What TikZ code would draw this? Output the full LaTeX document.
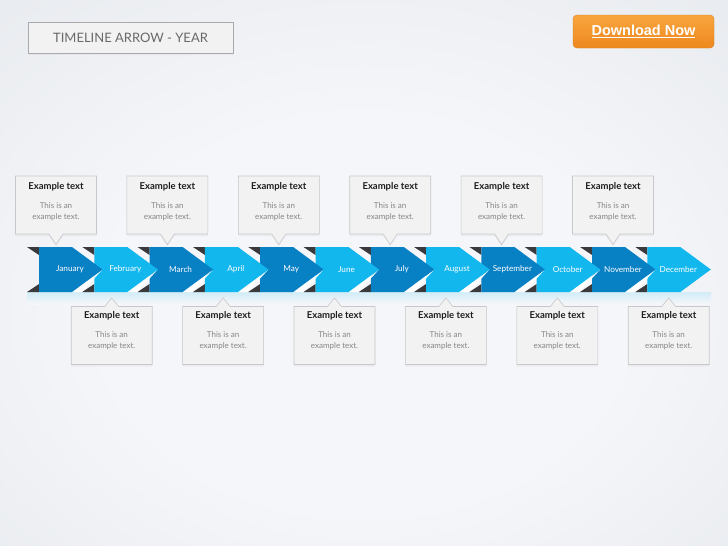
\documentclass[tikz,border=0pt]{standalone}
\usepackage{fontspec}
\setmainfont{Lato}
\newfontfamily\btnfont{Liberation Sans}
\usetikzlibrary{shapes.callouts, shadows}
\definecolor{bginner}{RGB}{245, 246, 249}
\definecolor{bgmid}{RGB}{232, 235, 239}
\definecolor{bgouter}{RGB}{212, 217, 224}
\definecolor{chevdark}{RGB}{8, 128, 196}
\definecolor{chevlight}{RGB}{18, 183, 238}
\definecolor{foldgray}{RGB}{58, 58, 60}
\definecolor{boxfill}{RGB}{242, 242, 243}
\definecolor{boxline}{RGB}{200, 200, 203}
\definecolor{headgray}{RGB}{30, 30, 30}
\definecolor{bodygray}{RGB}{135, 135, 135}
\definecolor{titlegray}{RGB}{105, 105, 105}
\definecolor{btntop}{RGB}{248, 166, 62}
\definecolor{btnbottom}{RGB}{237, 136, 30}
\pgfdeclareradialshading{backglow}{\pgfpoint{0bp}{-5bp}}{color(0bp)=(bginner); color(18bp)=(bginner); color(38bp)=(bgmid); color(62bp)=(bgouter); color(80bp)=(bgouter)}
\tikzset{
  fold/.style={fill=foldgray},
  gapshine/.style={fill=white, opacity=0.9},
  monthlabel/.style={text=white, font=\fontsize{8.2}{9}\selectfont, inner sep=0pt},
  callbox/.style={rectangle callout, draw=boxline, fill=boxfill, line width=0.6pt, minimum width=81pt, minimum height=58pt, inner sep=0pt, callout pointer width=14pt, drop shadow={opacity=0.08, shadow xshift=0pt, shadow yshift=-2pt}},
  headtext/.style={font=\fontsize{9.5}{10}\selectfont\bfseries, text=headgray, inner sep=0pt},
  bodytext/.style={font=\fontsize{8}{11}\selectfont, text=bodygray, align=center, inner sep=0pt},
}
\begin{document}
\begin{tikzpicture}[x=1pt, y=-1pt]
% background
\shade[shading=backglow] (0,0) rectangle (728,546);
\useasboundingbox (0,0) rectangle (728,546);

% heading and button
\node[draw=boxline!85!black, fill=boxfill, line width=0.8pt, minimum width=205pt, minimum height=31pt,
  font=\fontsize{13}{14}\selectfont, text=titlegray,
  drop shadow={opacity=0.08, shadow xshift=0pt, shadow yshift=-2pt}] (title) at (130.5,37.5) {TIMELINE ARROW - YEAR};
\node[rounded corners=4pt, top color=btntop, bottom color=btnbottom, draw=btnbottom!92!black, minimum width=141pt, minimum height=33pt,
  text=white, font=\btnfont\bfseries\fontsize{14.5}{16}\selectfont] (download) at (643.5,31.5) {\underline{Download Now}};

% reflection under the arrow
\shade[top color=chevlight!16!bginner, bottom color=bginner] (27,292) rectangle (711,304);

% chevrons, right to left so each tip lies over the next one
\foreach \i/\name/\col in {11/December/chevlight, 10/November/chevdark, 9/October/chevlight, 8/September/chevdark,
    7/August/chevlight, 6/July/chevdark, 5/June/chevlight, 4/May/chevdark,
    3/April/chevlight, 2/March/chevdark, 1/February/chevlight, 0/January/chevdark} {
  \pgfmathsetmacro\L{39+55.3*\i}
  \ifnum\i<11
    \fill[gapshine] (\L+33,292) -- (\L+43,292) -- (\L+63.5,269.5) -- cycle;
  \fi
  \fill[fold] (\L-12,247) -- (\L,247) -- (\L,255) -- cycle;
  \fill[fold] (\L-12,292) -- (\L,292) -- (\L,284) -- cycle;
  \fill[\col] (\L,247) -- (\L+33,247) -- (\L+63.5,269.5) -- (\L+33,292) -- (\L,292) -- cycle;
  \node[monthlabel] (m\i) at (\L+31,269.5) {\name};
}

% notes above the arrow
\foreach \i in {0,2,...,10} {
  \pgfmathsetmacro\X{56+55.7*\i}
  \coordinate (p\i) at (\X,244.5);
  \node[callbox, callout absolute pointer={(p\i)}] (c\i) at (\X,205) {};
  \node[headtext] (h\i) at ([yshift=-11pt]c\i.north) {Example text};
  \node[bodytext] (b\i) at ([yshift=-36.5pt]c\i.north) {This is an\\example text.};
}

% notes below the arrow
\foreach \i in {1,3,...,11} {
  \pgfmathsetmacro\X{56+55.7*\i}
  \coordinate (p\i) at (\X,298);
  \node[callbox, callout absolute pointer={(p\i)}] (c\i) at (\X,335.5) {};
  \node[headtext] (h\i) at ([yshift=-10pt]c\i.north) {Example text};
  \node[bodytext] (b\i) at ([yshift=-34.5pt]c\i.north) {This is an\\example text.};
}
\end{tikzpicture}
\end{document}
